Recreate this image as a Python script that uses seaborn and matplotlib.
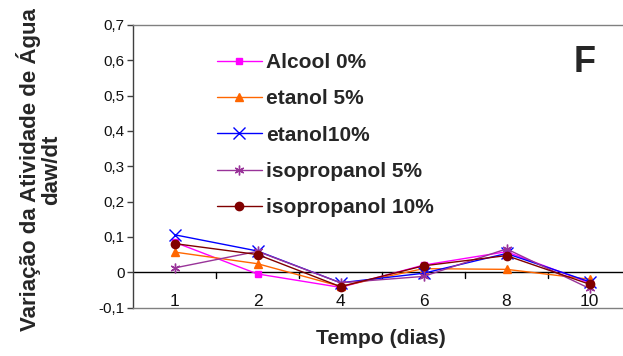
import matplotlib
matplotlib.use("Agg")
import matplotlib.pyplot as plt
import seaborn as sns
import pandas as pd

# ---- data ----
dias = ["1", "2", "4", "6", "8", "10"]
alcool_0 = [0.085, -0.005, -0.043, 0.020, 0.058, -0.030]
etanol_5 = [0.057, 0.024, -0.040, 0.010, 0.008, -0.020]
etanol_10 = [0.106, 0.060, -0.030, -0.003, 0.053, -0.027]
isoprop_5 = [0.012, 0.059, -0.030, -0.012, 0.066, -0.046]
isoprop_10 = [0.081, 0.050, -0.041, 0.018, 0.047, -0.034]

series_names = ["Alcool 0%", "etanol 5%", "etanol10%", "isopropanol 5%", "isopropanol 10%"]
series_vals = [alcool_0, etanol_5, etanol_10, isoprop_5, isoprop_10]
colors = ["#FF00FF", "#FF6600", "#0000FF", "#993399", "#800000"]
markers = ["s", "^", "x", (6, 2, 0), "o"]
msizes = [5, 6, 8, 7, 6]

ytick_vals = [-0.1, 0, 0.1, 0.2, 0.3, 0.4, 0.5, 0.6, 0.7]
ytick_labels = ["-0,1", "0", "0,1", "0,2", "0,3", "0,4", "0,5", "0,6", "0,7"]

rows = []
for name, vals in zip(series_names, series_vals):
    for i, v in enumerate(vals):
        rows.append({"pos": i, "dia": dias[i], "serie": name, "valor": v})
df = pd.DataFrame(rows)

sns.set_theme(style="white")
plt.rcParams["font.family"] = ["Liberation Sans", "DejaVu Sans"]

W, H = 623, 356
fig = plt.figure(figsize=(W / 100, H / 100), dpi=100)
ax_l, ax_r, ax_t, ax_b = 133, 631, 25, 307.5
ax = fig.add_axes([ax_l / W, 1 - ax_b / H, (ax_r - ax_l) / W, (ax_b - ax_t) / H])

for name, c, m, ms in zip(series_names, colors, markers, msizes):
    sub = df[df["serie"] == name]
    sns.lineplot(data=sub, x="pos", y="valor", ax=ax, color=c, marker=m,
                 markersize=ms, linewidth=1.0, label=name,
                 markeredgecolor=c, markerfacecolor=c, markeredgewidth=1.0)

ax.set_xlim(-0.5, 5.5)
ax.set_ylim(-0.1, 0.7)

# zero line (category axis)
ax.axhline(0, color="black", linewidth=1.0, zorder=1)
for b in [0.5, 1.5, 2.5, 3.5, 4.5]:
    ax.plot([b, b], [0, -0.017], color="black", linewidth=1.0, zorder=1)

# spines
for s in ["top", "bottom"]:
    ax.spines[s].set_color("#808080")
    ax.spines[s].set_linewidth(1.0)
ax.spines["left"].set_color("#404040")
ax.spines["left"].set_linewidth(1.0)
ax.spines["right"].set_visible(False)

ax.set_yticks(ytick_vals)
ax.set_yticklabels(ytick_labels)
ax.tick_params(axis="y", direction="out", length=4.5, width=1, color="#404040",
               labelsize=11, pad=1.5, left=True, labelcolor="#111111")

ax.set_xticks(range(len(dias)))
ax.set_xticklabels(dias)
ax.tick_params(axis="x", length=0, labelsize=12.5, pad=-10, labelcolor="#111111")

ax.set_xlabel("Tempo (dias)", fontsize=15.2, fontweight="bold")
ax.xaxis.set_label_coords((381 - ax_l) / (ax_r - ax_l), -(338 - ax_b) / (ax_b - ax_t))
ax.xaxis.label.set_verticalalignment("center")

ax.set_ylabel("Variação da Atividade de Água\ndaw/dt", fontsize=16, fontweight="bold",
              linespacing=1.0)
ax.yaxis.set_label_coords((39.5 - ax_l) / (ax_r - ax_l), (ax_b - 170) / (ax_b - ax_t))
ax.yaxis.label.set_verticalalignment("center")

leg = ax.legend(loc="upper left", bbox_to_anchor=(217 / W, 1 - 53 / H),
                bbox_transform=fig.transFigure, frameon=False,
                prop={"weight": "bold", "size": 15}, labelspacing=0.83,
                handlelength=2.15, handletextpad=0.2, borderaxespad=0, borderpad=0)

fig.text(585 / W, 1 - 62 / H, "F", fontsize=26, fontweight="bold",
         ha="center", va="center")

fig.savefig("out.png", dpi=100)
